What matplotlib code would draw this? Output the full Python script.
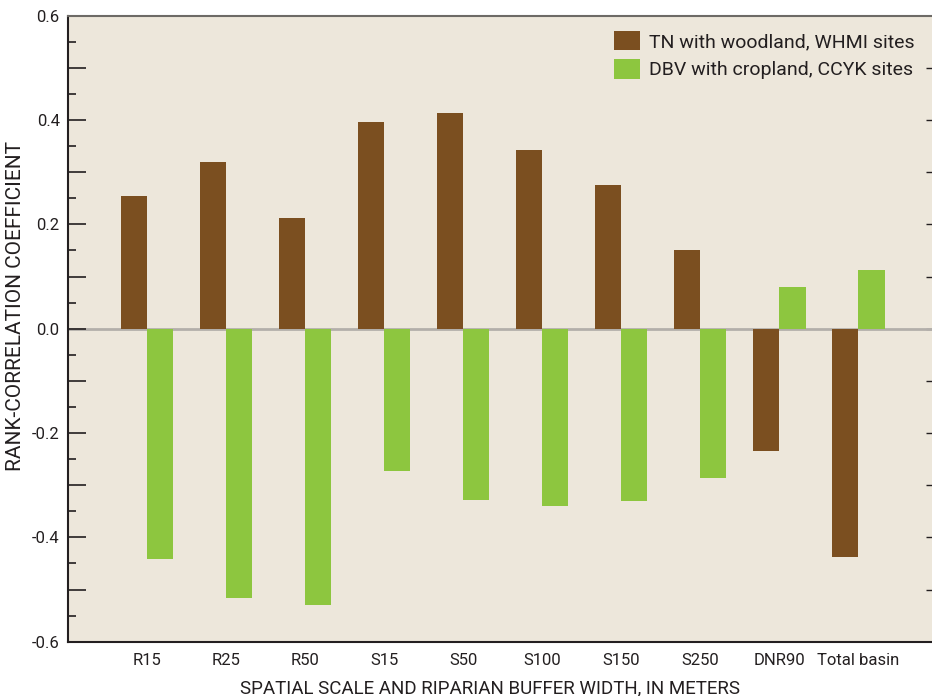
import matplotlib
matplotlib.use("Agg")
import matplotlib.pyplot as plt
from matplotlib import font_manager
import numpy as np

categories = ["R15", "R25", "R50", "S15", "S50", "S100", "S150", "S250", "DNR90", "Total basin"]
tn_woodland = [0.254, 0.320, 0.212, 0.396, 0.413, 0.342, 0.275, 0.151, -0.235, -0.437]
dbv_cropland = [-0.441, -0.516, -0.530, -0.273, -0.328, -0.340, -0.330, -0.286, 0.080, 0.112]
series_labels = ["TN with woodland, WHMI sites", "DBV with cropland, CCYK sites"]

names = {f.name for f in font_manager.fontManager.ttflist}
fam = "Roboto" if "Roboto" in names else "Liberation Sans"
plt.rcParams['font.family'] = [fam, 'DejaVu Sans']

txt = "#231f20"
brown = "#7b4f20"
green = "#8dc63f"
bg = "#ede7db"

fig = plt.figure(figsize=(9.32, 6.96), dpi=100)
ax = fig.add_axes([68/932, 54.3/696, 1 - 68/932, (641.7 - 15.7)/696])
ax.set_facecolor(bg)

x = np.arange(len(categories))
w = 0.33
ax.bar(x - w/2, tn_woodland, width=w, color=brown, label=series_labels[0], zorder=2)
ax.bar(x + w/2, dbv_cropland, width=w, color=green, label=series_labels[1], zorder=2)
ax.axhline(0, color="#b3afaa", lw=2, zorder=1)

ax.set_xlim(-1.0, 9.93)
ax.set_ylim(-0.6, 0.6)

def lab(v):
    k = int(round(v * 10))
    if k % 2 != 0:
        return ""
    if k == 0:
        return "0.0"
    return "%.1f" % (k / 10)

yt = np.round(np.arange(-0.6, 0.61, 0.1), 2)
ax.set_yticks(yt)
ax.set_yticklabels([lab(v) for v in yt])
ax.set_yticks(np.round(np.arange(-0.55, 0.6, 0.1), 2), minor=True)
ax.tick_params(axis='y', which='major', direction='in', length=13, width=1.2, color=txt,
               labelsize=12, labelcolor=txt, pad=6)
ax.tick_params(axis='y', which='minor', direction='in', length=6, width=1.2, color=txt)

ax.set_xticks(x)
ax.set_xticklabels(categories)
ax.tick_params(axis='x', length=0, labelsize=12, labelcolor=txt, pad=8)

sec = ax.secondary_yaxis('right')
sec.set_yticks(np.round(np.arange(-0.5, 0.51, 0.1), 2))
sec.set_yticklabels([])
sec.tick_params(direction='in', length=4, width=1.0, color=txt)
sec.spines['right'].set_visible(False)

ax.spines['right'].set_visible(False)
ax.spines['left'].set_color(txt)
ax.spines['left'].set_linewidth(1.5)
ax.spines['bottom'].set_color(txt)
ax.spines['bottom'].set_linewidth(1.5)
ax.spines['top'].set_color("#6d6a66")
ax.spines['top'].set_linewidth(1.5)

ax.set_xlabel("SPATIAL SCALE AND RIPARIAN BUFFER WIDTH, IN METERS", fontsize=13.5, color=txt)
ax.set_ylabel("RANK-CORRELATION COEFFICIENT", fontsize=15, color=txt)
ax.xaxis.set_label_coords((490 - 68) / 864, (641.7 - 679) / 626)
ax.yaxis.set_label_coords((25 - 68) / 864, (641.7 - 306) / 626)

leg = ax.legend(loc='upper right', frameon=False, fontsize=14, handlelength=1.3, handleheight=1.2,
                handletextpad=0.5, labelspacing=0.4, bbox_to_anchor=(0.996, 0.998), borderaxespad=0.3)
for t in leg.get_texts():
    t.set_color(txt)

fig.savefig("out.png", dpi=100)
